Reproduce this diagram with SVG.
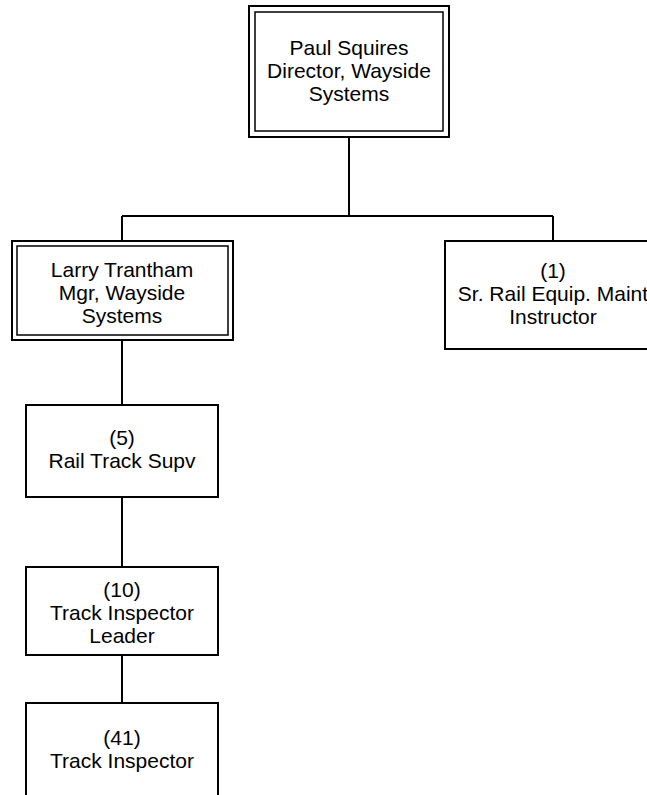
<svg xmlns="http://www.w3.org/2000/svg" width="647" height="795" viewBox="0 0 647 795">
<style>
.bg{fill:#fff}
.box{fill:#fff;stroke:#000;stroke-width:2}
.inner{fill:none;stroke:#000;stroke-width:1.5}
.lbl{font-family:"Liberation Sans",Arial,sans-serif;font-size:21px;fill:#000;text-anchor:middle}
.conn{stroke:#000;stroke-width:2;fill:none}
</style>
<rect class="bg" x="0" y="0" width="647" height="795"/>
<g id="connectors">
<path class="conn" d="M349 137V216M122 216H553M122 216V241M553 216V241M122 340V405M122 497V567M122 655V703"/>
</g>
<g id="n-paul">
<rect class="box" x="249" y="6" width="200" height="131"/>
<rect class="inner" x="255" y="12" width="188" height="119"/>
<text class="lbl" x="349" y="55">Paul Squires</text>
<text class="lbl" x="349" y="78">Director, Wayside</text>
<text class="lbl" x="349" y="101">Systems</text>
</g>
<g id="n-larry">
<rect class="box" x="12" y="241" width="221" height="99"/>
<rect class="inner" x="17" y="246" width="211" height="89"/>
<text class="lbl" x="122" y="277">Larry Trantham</text>
<text class="lbl" x="122" y="300">Mgr, Wayside</text>
<text class="lbl" x="122" y="323">Systems</text>
</g>
<g id="n-sr">
<rect class="box" x="445" y="241" width="216" height="108"/>
<text class="lbl" x="553" y="278">(1)</text>
<text class="lbl" x="553" y="301">Sr. Rail Equip. Maint</text>
<text class="lbl" x="553" y="324">Instructor</text>
</g>
<g id="n-supv">
<rect class="box" x="26" y="405" width="192" height="92"/>
<text class="lbl" x="122" y="445">(5)</text>
<text class="lbl" x="122" y="468">Rail Track Supv</text>
</g>
<g id="n-leader">
<rect class="box" x="26" y="567" width="192" height="88"/>
<text class="lbl" x="122" y="597">(10)</text>
<text class="lbl" x="122" y="620">Track Inspector</text>
<text class="lbl" x="122" y="643">Leader</text>
</g>
<g id="n-inspector">
<rect class="box" x="26" y="703" width="192" height="110"/>
<text class="lbl" x="122" y="745">(41)</text>
<text class="lbl" x="122" y="768">Track Inspector</text>
</g>
</svg>
